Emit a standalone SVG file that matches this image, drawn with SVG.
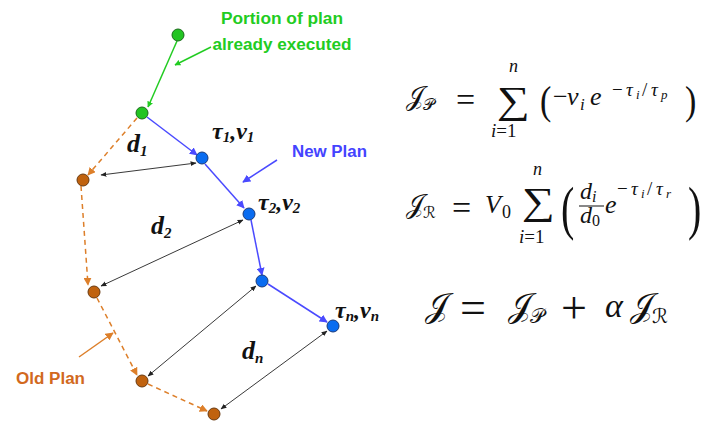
<svg xmlns="http://www.w3.org/2000/svg" width="724" height="421" viewBox="0 0 724 421">
<style>
.ng{fill:#22c422;stroke:#1a6a1a;stroke-width:1}
.nb{fill:#0a6cf0;stroke:#1a3a7a;stroke-width:1}
.no{fill:#c0620e;stroke:#6a3a10;stroke-width:1}
.lg{stroke:#22cc22;stroke-width:1.5;fill:none}
.lb{stroke:#4a4aff;stroke-width:1.5;fill:none}
.lo{stroke:#dd7f2a;stroke-width:1.5;fill:none;stroke-dasharray:5 4}
.lk{stroke:#222;stroke-width:0.9;fill:none}
.tl{font-family:"Liberation Sans",Arial,sans-serif;font-weight:bold}
.lab{font-family:"Liberation Serif","Times New Roman",serif;font-style:italic;font-weight:bold;fill:#111}
.m{font-family:"Liberation Serif","DejaVu Serif",serif;fill:#111}
.mi{font-style:italic}
.sc{font-family:"DejaVu Sans","Noto Sans",serif}
</style>
<defs>
<marker id="ag" viewBox="0 0 10 10" refX="9" refY="5" markerWidth="6" markerHeight="6" orient="auto" markerUnits="userSpaceOnUse"><path d="M0,0L10,5L0,10z" fill="#22cc22"/></marker>
<marker id="ab" viewBox="0 0 10 10" refX="9" refY="5" markerWidth="8" markerHeight="8" orient="auto" markerUnits="userSpaceOnUse"><path d="M0,0L10,5L0,10z" fill="#4a4aff"/></marker>
<marker id="ao" viewBox="0 0 10 10" refX="9" refY="5" markerWidth="8" markerHeight="8" orient="auto" markerUnits="userSpaceOnUse"><path d="M0,0L10,5L0,10z" fill="#dd7f2a"/></marker>
<marker id="ak" viewBox="0 0 10 10" refX="9" refY="5" markerWidth="6" markerHeight="6" orient="auto-start-reverse" markerUnits="userSpaceOnUse"><path d="M0,1L10,5L0,9z" fill="#222"/></marker>
</defs>
<g id="connectors">
<line class="lg" x1="177" y1="41" x2="148" y2="107" marker-end="url(#ag)"/>
<line class="lg" x1="211" y1="47" x2="175" y2="65" marker-end="url(#ag)"/>
<line class="lb" x1="147" y1="117" x2="197" y2="155" marker-end="url(#ab)"/>
<line class="lb" x1="205" y1="164" x2="244" y2="208" marker-end="url(#ab)"/>
<line class="lb" x1="251" y1="220" x2="262" y2="275" marker-end="url(#ab)"/>
<line class="lb" x1="268" y1="284" x2="327" y2="322" marker-end="url(#ab)"/>
<line class="lb" x1="277" y1="160" x2="243" y2="182" marker-end="url(#ab)"/>
<line class="lo" x1="137" y1="118" x2="88" y2="175" marker-end="url(#ao)"/>
<line class="lo" x1="81" y1="186" x2="88" y2="285" marker-end="url(#ao)"/>
<line class="lo" x1="97" y1="298" x2="137" y2="375" marker-end="url(#ao)"/>
<line class="lo" x1="148" y1="384" x2="207" y2="411" marker-end="url(#ao)"/>
<line stroke="#dd7f2a" stroke-width="1.5" x1="79" y1="357" x2="113" y2="333" marker-end="url(#ao)"/>
<line class="lk" x1="101" y1="175" x2="196" y2="163" marker-start="url(#ak)" marker-end="url(#ak)"/>
<line class="lk" x1="101" y1="286" x2="243" y2="220" marker-start="url(#ak)" marker-end="url(#ak)"/>
<line class="lk" x1="148" y1="376" x2="256" y2="286" marker-start="url(#ak)" marker-end="url(#ak)"/>
<line class="lk" x1="221" y1="409" x2="327" y2="331" marker-start="url(#ak)" marker-end="url(#ak)"/>
</g>
<g id="n-g1"><circle class="ng" cx="178" cy="35" r="6"/></g>
<g id="n-g2"><circle class="ng" cx="142" cy="113" r="6"/></g>
<g id="n-b1"><circle class="nb" cx="202" cy="158" r="6"/></g>
<g id="n-b2"><circle class="nb" cx="249" cy="214" r="6"/></g>
<g id="n-b3"><circle class="nb" cx="262" cy="281" r="6"/></g>
<g id="n-b4"><circle class="nb" cx="333" cy="326" r="6"/></g>
<g id="n-o1"><circle class="no" cx="83" cy="180" r="6"/></g>
<g id="n-o2"><circle class="no" cx="94" cy="292" r="6"/></g>
<g id="n-o3"><circle class="no" cx="142" cy="381" r="6"/></g>
<g id="n-o4"><circle class="no" cx="214" cy="414" r="6"/></g>
<g id="labels">
<text class="tl" x="282" y="24" font-size="16" fill="#22cc22" text-anchor="middle" textLength="122" lengthAdjust="spacingAndGlyphs">Portion of plan</text>
<text class="tl" x="282" y="50" font-size="16" fill="#22cc22" text-anchor="middle" textLength="139" lengthAdjust="spacingAndGlyphs">already executed</text>
<text class="tl" x="292" y="157" font-size="16" fill="#4444ff" textLength="75" lengthAdjust="spacingAndGlyphs">New Plan</text>
<text class="tl" x="16" y="384" font-size="16" fill="#d2691e" textLength="69" lengthAdjust="spacingAndGlyphs">Old Plan</text>
<text class="lab" x="127" y="152" font-size="26">d<tspan font-size="15" dy="4">1</tspan></text>
<text class="lab" x="151" y="234" font-size="26">d<tspan font-size="15" dy="4">2</tspan></text>
<text class="lab" x="242" y="359" font-size="26">d<tspan font-size="15" dy="4">n</tspan></text>
<text class="lab" x="212" y="139" font-size="24">τ<tspan font-size="15" dy="3">1</tspan><tspan dy="-3">,v</tspan><tspan font-size="15" dy="3">1</tspan></text>
<text class="lab" x="258" y="210" font-size="24">τ<tspan font-size="15" dy="3">2</tspan><tspan dy="-3">,v</tspan><tspan font-size="15" dy="3">2</tspan></text>
<text class="lab" x="335" y="318" font-size="24">τ<tspan font-size="15" dy="3">n</tspan><tspan dy="-3">,v</tspan><tspan font-size="15" dy="3">n</tspan></text>
</g>
<g id="eq1" class="m">
<text class="sc" x="406" y="105" font-size="26">𝒥</text>
<text class="sc" x="423" y="110" font-size="16">𝒫</text>
<text x="456" y="111" font-size="34">=</text>
<text x="497" y="113" font-size="38" textLength="33" lengthAdjust="spacingAndGlyphs">∑</text>
<text class="mi" x="509" y="72" font-size="18">n</text>
<text x="491" y="137" font-size="19"><tspan class="mi">i</tspan>=1</text>
<text x="540" y="114" font-size="34" transform="translate(540 114) scale(1 1.15) translate(-540 -114)">(</text>
<text x="553" y="105" font-size="26">−</text>
<text class="mi" x="567" y="105" font-size="26">v</text>
<text class="mi" x="580" y="110" font-size="17">i</text>
<text class="mi" x="590" y="105" font-size="26">e</text>
<text x="612" y="96" font-size="19">−</text>
<text class="mi" x="626" y="96" font-size="19">τ</text>
<text class="mi" x="636" y="99" font-size="13">i</text>
<text x="642" y="96" font-size="19">/</text>
<text class="mi" x="651" y="96" font-size="19">τ</text>
<text class="mi" x="661" y="99" font-size="13">p</text>
<text x="685" y="114" font-size="34" transform="translate(685 114) scale(1 1.15) translate(-685 -114)">)</text>
</g>
<g id="eq2" class="m">
<text class="sc" x="406" y="213" font-size="26">𝒥</text>
<text class="sc" x="423" y="218" font-size="16">ℛ</text>
<text x="452" y="219" font-size="34">=</text>
<text class="mi" x="485" y="213" font-size="26">V</text>
<text x="502" y="218" font-size="18">0</text>
<text x="522" y="214" font-size="38" textLength="33" lengthAdjust="spacingAndGlyphs">∑</text>
<text class="mi" x="533" y="175" font-size="18">n</text>
<text x="519" y="243" font-size="19"><tspan class="mi">i</tspan>=1</text>
<text x="561" y="228" font-size="40" transform="translate(561 228) scale(1 1.5) translate(-561 -228)">(</text>
<text x="580" y="199" font-size="24"><tspan class="mi">d</tspan><tspan class="mi" font-size="16" dy="3">i</tspan></text>
<line x1="579" y1="206" x2="604" y2="206" stroke="#111" stroke-width="1"/>
<text x="580" y="223" font-size="24"><tspan class="mi">d</tspan><tspan font-size="16" dy="3">0</tspan></text>
<text class="mi" x="605" y="213" font-size="26">e</text>
<text x="617" y="195" font-size="19">−</text>
<text class="mi" x="631" y="195" font-size="19">τ</text>
<text class="mi" x="641" y="198" font-size="13">i</text>
<text x="647" y="195" font-size="19">/</text>
<text class="mi" x="656" y="195" font-size="19">τ</text>
<text class="mi" x="666" y="198" font-size="13">r</text>
<text x="688" y="228" font-size="40" transform="translate(688 228) scale(1 1.5) translate(-688 -228)">)</text>
</g>
<g id="eq3" class="m">
<text class="sc" x="425" y="317" font-size="34">𝒥</text>
<text x="460" y="323" font-size="46">=</text>
<text class="sc" x="508" y="317" font-size="34">𝒥</text>
<text class="sc" x="530" y="323" font-size="20">𝒫</text>
<text x="561" y="323" font-size="46">+</text>
<text class="mi" x="605" y="317" font-size="34">α</text>
<text class="sc" x="630" y="317" font-size="34">𝒥</text>
<text class="sc" x="652" y="323" font-size="20">ℛ</text>
</g>
</svg>
